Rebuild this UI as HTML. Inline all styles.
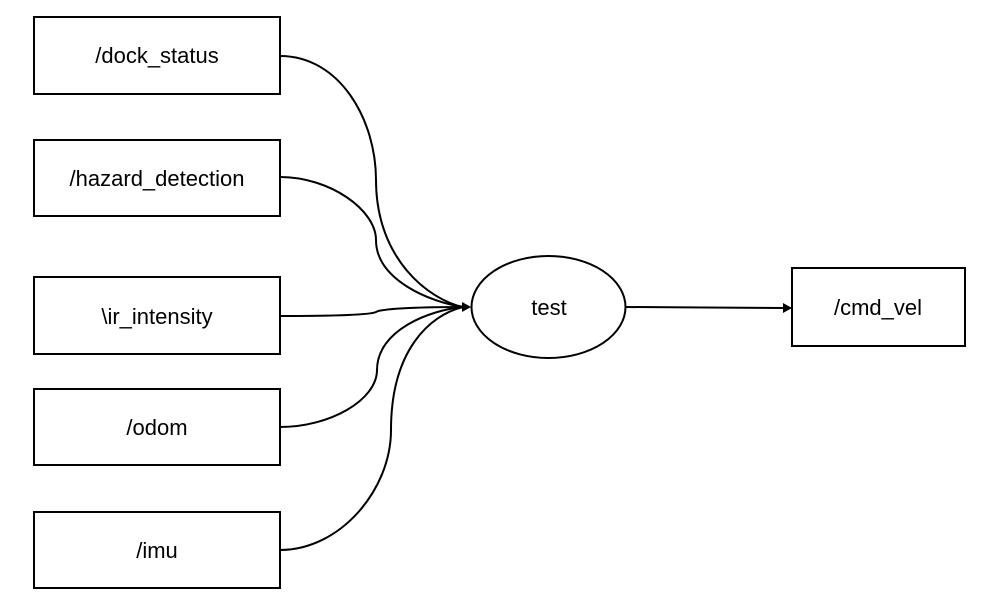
<!DOCTYPE html>
<html><head><style>body{margin:0;background:#fff}</style></head><body>
<svg width="982" height="607" xmlns="http://www.w3.org/2000/svg" font-family="Liberation Sans, sans-serif" font-size="22">
<rect width="982" height="607" fill="#fff"/>
<g fill="#fff" stroke="#000" stroke-width="2">
<rect x="34" y="17" width="246" height="77"/>
<rect x="34" y="140" width="246" height="76"/>
<rect x="34" y="277" width="246" height="77"/>
<rect x="34" y="389" width="246" height="76"/>
<rect x="34" y="512" width="246" height="76"/>
<rect x="792" y="268" width="173" height="78"/>
<ellipse cx="548.5" cy="307" rx="77" ry="51"/>
</g>
<g fill="none" stroke="#000" stroke-width="2">
<path d="M280,56 C340,56 376,120 376,180 C376,260 430,300 463,307"/>
<path d="M280,177 C330,177 376,210 376,240 C376,280 430,302 463,307"/>
<path d="M280,316 C330,316 370,315 376,312 C382,308 430,307 463,307"/>
<path d="M280,427 C330,427 377,400 377,370 C377,330 430,310 463,307"/>
<path d="M280,550 C340,550 391,490 391,430 C391,350 430,315 463,307"/>
<path d="M626,307 C700,307 710,308 784,308"/>
</g>
<polygon points="471,307 462,302 462,312" fill="#000"/>
<polygon points="792,308 783,303 783,313" fill="#000"/>
<g text-anchor="middle" fill="#000">
<text x="157" y="63">/dock_status</text>
<text x="157" y="186">/hazard_detection</text>
<text x="157" y="324">\ir_intensity</text>
<text x="157" y="435">/odom</text>
<text x="157" y="558">/imu</text>
<text x="549" y="315">test</text>
<text x="878" y="315">/cmd_vel</text>
</g>
</svg>
</body></html>
